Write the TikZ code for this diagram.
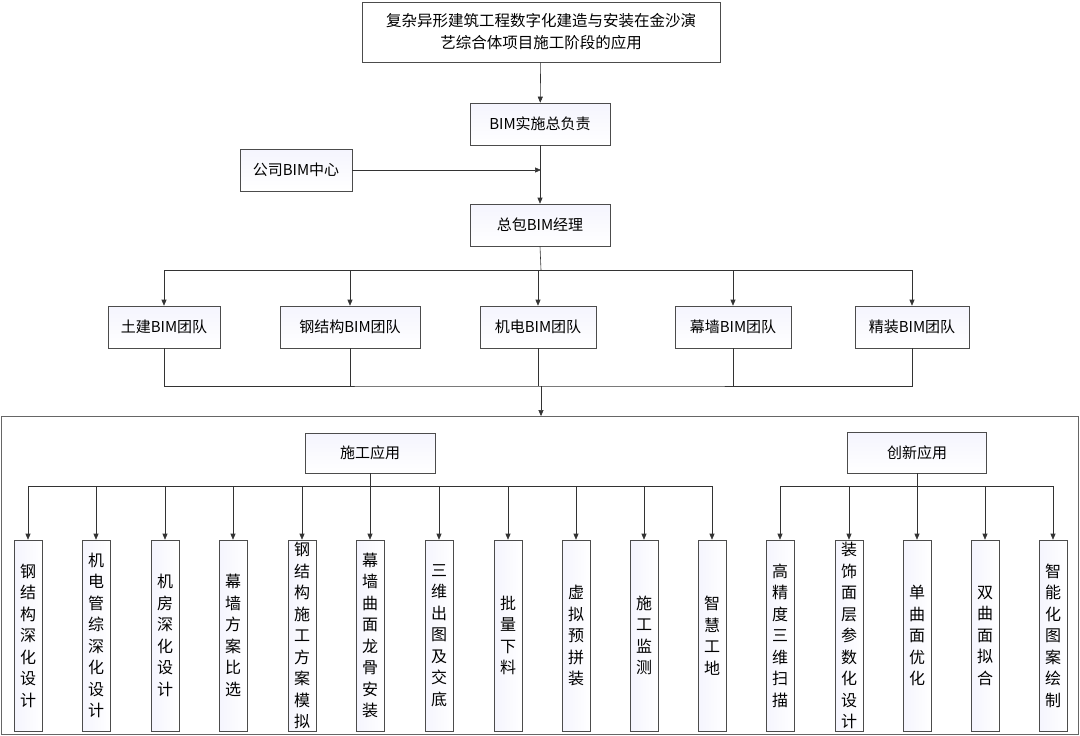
\documentclass[tikz,border=0pt]{standalone}
\usepackage{fontspec}
\setmainfont{Noto Sans CJK SC}
\usetikzlibrary{arrows.meta}
\begin{document}
\begin{tikzpicture}[x=1pt,y=-1pt,
  bx/.style={draw=black!70,line width=0.6pt,left color=black!14!blue!4,right color=white,shading angle=0,inner sep=0pt,font=\fontsize{15}{18}\selectfont},
  tb/.style={bx,minimum width=#1,minimum height=42},
  vb/.style={draw=black!70,line width=0.6pt,left color=black!14!blue!4,right color=white,minimum width=28,minimum height=191,inner sep=0pt,align=center,font=\fontsize{16}{21.5}\selectfont},
  ln/.style={draw=black!80,line width=0.6pt},
  ar/.style={ln,-{Triangle[length=6pt,width=5pt]}}]
\useasboundingbox (0,0) rectangle (1080,736);
\node[draw=black!70,line width=0.6pt,fill=white,minimum width=358,minimum height=60,align=center,font=\fontsize{15.5}{22}\selectfont] (top) at (541,32) {复杂异形建筑工程数字化建造与安装在金沙演\\艺综合体项目施工阶段的应用};
\node[tb=140] (bim) at (540,124) {BIM实施总负责};
\node[tb=112] (co) at (296,170) {公司BIM中心};
\node[tb=140] (gm) at (540,225) {总包BIM经理};
\node[tb=112] (t1) at (164,327) {土建BIM团队};
\node[tb=140] (t2) at (350,327) {钢结构BIM团队};
\node[tb=116] (t3) at (538,327) {机电BIM团队};
\node[tb=116] (t4) at (733,327) {幕墙BIM团队};
\node[tb=114] (t5) at (912,327) {精装BIM团队};
\draw[ar] (top) -- (bim);
\draw[ar] (bim) -- (gm);
\coordinate (j1) at (541,170);
\draw[ar] (co) -- (j1);
\coordinate (h) at (541,270);
\draw[ln] (gm.south) -- (h);
\draw[ln] (164,270) -- (912,270);
\foreach \t in {t1,t2,t3,t4,t5} \draw[ar] (\t.north|-h) -- (\t.north);
\draw[ln] (t1.south) |- (541,386) -| (t5.south);
\foreach \t in {t2,t3,t4} \draw[ln] (\t.south) -- (\t.south|-0,386);
\node[draw=black!60,line width=0.8pt,minimum width=1077,minimum height=318,inner sep=0pt] (outer) at (539.5,575.5) {};
\coordinate (j2) at (541,386);
\draw[ar] (j2) -- (outer.north-|j2);
\node[tb=130,minimum height=40] (sg) at (370,453) {施工应用};
\node[tb=139,minimum height=41] (cx) at (917,452.5) {创新应用};
\def\vy{635.5}
\foreach \n/\x/\s in {a1/28/钢\\结\\构\\深\\化\\设\\计, a2/96/机\\电\\管\\综\\深\\化\\设\\计, a3/165/机\\房\\深\\化\\设\\计, a4/233/幕\\墙\\方\\案\\比\\选, a5/302/钢\\结\\构\\施\\工\\方\\案\\模\\拟, a6/370/幕\\墙\\曲\\面\\龙\\骨\\安\\装, a7/439/三\\维\\出\\图\\及\\交\\底, a8/508/批\\量\\下\\料, a9/576/虚\\拟\\预\\拼\\装, a10/644/施\\工\\监\\测, a11/712/智\\慧\\工\\地} {
  \node[vb] (\n) at (\x,\vy) {\s};
  \draw[ar] (\x,486) -- (\n.north);
}
\draw[ln] (sg.south) -- (370,486);
\draw[ln] (28,486) -- (712,486);
\foreach \n/\x/\s in {b1/780/高\\精\\度\\三\\维\\扫\\描, b2/849/装\\饰\\面\\层\\参\\数\\化\\设\\计, b3/917/单\\曲\\面\\优\\化, b4/985/双\\曲\\面\\拟\\合, b5/1053/智\\能\\化\\图\\案\\绘\\制} {
  \node[vb] (\n) at (\x,\vy) {\s};
  \draw[ar] (\x,486) -- (\n.north);
}
\draw[ln] (cx.south) -- (917,486);
\draw[ln] (780,486) -- (1053,486);
\end{tikzpicture}
\end{document}
